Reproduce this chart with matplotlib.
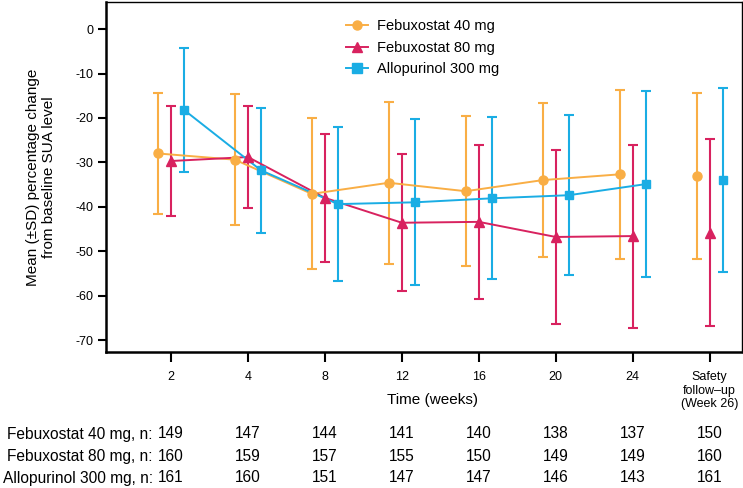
import matplotlib
matplotlib.use("Agg")
import matplotlib.pyplot as plt
import matplotlib.transforms as mtransforms
import numpy as np

plt.rcParams['font.family'] = ['Liberation Sans', 'DejaVu Sans']
plt.rcParams['axes.unicode_minus'] = False

categories = ["2", "4", "8", "12", "16", "20", "24", "Safety\nfollow\u2013up\n(Week 26)"]
series_names = ["Febuxostat 40 mg", "Febuxostat 80 mg", "Allopurinol 300 mg"]

feb40_mean = [-28.0, -29.4, -37.1, -34.6, -36.5, -34.0, -32.7, -33.0]
feb40_sd = [13.7, 14.7, 17.0, 18.2, 16.9, 17.4, 19.0, 18.7]
feb80_mean = [-29.7, -28.8, -38.0, -43.6, -43.4, -46.8, -46.6, -45.8]
feb80_sd = [12.3, 11.5, 14.4, 15.4, 17.3, 19.5, 20.6, 21.1]
allo_mean = [-18.2, -31.8, -39.4, -39.0, -38.1, -37.4, -34.9, -34.0]
allo_sd = [14.0, 14.1, 17.4, 18.7, 18.2, 18.0, 20.9, 20.8]

n_feb40 = [149, 147, 144, 141, 140, 138, 137, 150]
n_feb80 = [160, 159, 157, 155, 150, 149, 149, 160]
n_allo = [161, 160, 151, 147, 147, 146, 143, 161]

colors = ["#F9AE45", "#D8225F", "#1AADE4"]
markers = ["o", "^", "s"]
offsets = [-0.17, 0.0, 0.17]

fig = plt.figure(figsize=(7.43, 4.88), dpi=100)
ax = fig.add_axes([106/743, 1 - 352/488, 636/743, 350/488])

x = np.arange(len(categories))
means = [feb40_mean, feb80_mean, allo_mean]
sds = [feb40_sd, feb80_sd, allo_sd]
for i in range(3):
    xs = x + offsets[i]
    m = np.array(means[i])
    s = np.array(sds[i])
    ax.errorbar(xs, m, yerr=s, fmt='none', ecolor=colors[i], elinewidth=1.5,
                capsize=3.5, capthick=1.5, zorder=2)
    ax.plot(xs[:7], m[:7], color=colors[i], lw=1.4, zorder=3)
    ax.plot(xs, m, linestyle='none', marker=markers[i], color=colors[i],
            markersize=6.5 if markers[i] != 's' else 6, zorder=4)
    ax.plot([], [], color=colors[i], lw=1.4, marker=markers[i], markersize=6.5,
            label=series_names[i])

ax.set_xlim(-0.844, 7.42)
ax.set_ylim(-72.7, 6.1)
ax.set_yticks([0, -10, -20, -30, -40, -50, -60, -70])
ax.set_xticks(x)
ax.set_xticklabels(categories, fontsize=9, linespacing=1.12)
ax.tick_params(axis='y', labelsize=9, length=6, width=1.5, direction='out', pad=3)
ax.tick_params(axis='x', length=7, width=1.5, direction='out', pad=7)

for side in ['left', 'bottom']:
    ax.spines[side].set_linewidth(1.8)
for side in ['top', 'right']:
    ax.spines[side].set_linewidth(1.0)

ax.set_ylabel("Mean (\u00b1SD) percentage change\nfrom baseline SUA level", fontsize=11, labelpad=14)
ax.set_xlabel("Time (weeks)", fontsize=11)
ax.xaxis.set_label_coords(0.514, -0.117)

leg = ax.legend(loc='upper left', bbox_to_anchor=(0.357, 0.988), frameon=False,
                fontsize=10.5, handlelength=1.5, handletextpad=0.6, labelspacing=0.5)

# n table below
row_names = ["Febuxostat 40 mg, n:", "Febuxostat 80 mg, n:", "Allopurinol 300 mg, n:"]
row_vals = [n_feb40, n_feb80, n_allo]
row_y = [1 - 434/488, 1 - 456.5/488, 1 - 478/488]
trans = mtransforms.blended_transform_factory(ax.transData, fig.transFigure)
for r in range(3):
    for j, v in enumerate(row_vals[r]):
        ax.text(x[j], row_y[r], str(v), transform=trans, ha='center', va='center',
                fontsize=11.2, clip_on=False)
    ax.annotate(row_names[r], xy=(x[0], row_y[r]), xycoords=trans,
                xytext=(-18, 0), textcoords='offset pixels', ha='right', va='center',
                fontsize=11.2, annotation_clip=False)

fig.savefig("out.png", dpi=100)
